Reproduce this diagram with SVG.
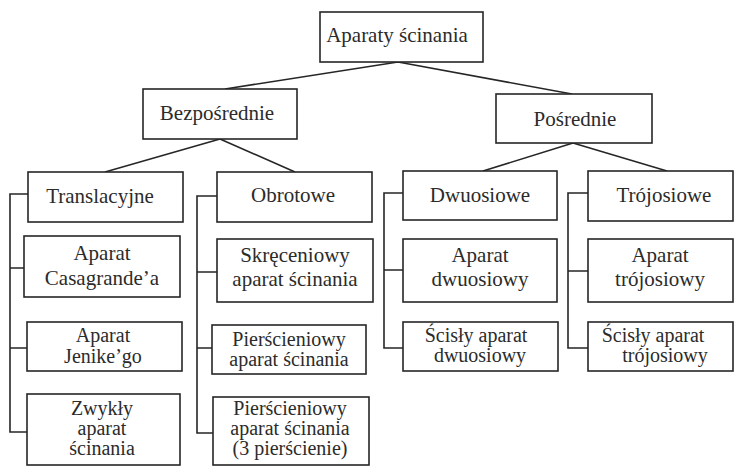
<svg xmlns="http://www.w3.org/2000/svg" width="736" height="466" viewBox="0 0 736 466">
<style>
.box{fill:#fff;stroke:#262626;stroke-width:1.6}
.c{fill:none;stroke:#262626;stroke-width:1.6}
.l{font-size:21px}
.s{font-size:20px}
</style>
<rect width="736" height="466" fill="#fff"/>
<g id="connectors">
<path class="c" d="M398,62 L225,89 M398,62 L572,94"/>
<path class="c" d="M220,139 L105,172 M220,139 L295,172"/>
<path class="c" d="M573,143 L483,171 M573,143 L667,171"/>
<path class="c" d="M28,194 H10 V432 H27 M10,268 H24 M10,348 H27"/>
<path class="c" d="M217,196 H197 V433 H213 M197,272 H217 M197,348 H212"/>
<path class="c" d="M403,193 H384 V348 H403 M384,270 H403"/>
<path class="c" d="M588,193 H568 V348 H588 M568,271 H588"/>
</g>
<g id="nodes" font-family="Liberation Serif, Times New Roman, serif" fill="#2b2b2b" text-anchor="middle">
<g id="n0"><rect class="box" x="320" y="12" width="163" height="50"/><text font-family="Liberation Serif" class="l" x="397" y="42">Aparaty ścinania</text></g>
<g id="n1"><rect class="box" x="143" y="89" width="154" height="50"/><text font-family="Liberation Serif" class="l" x="217" y="120">Bezpośrednie</text></g>
<g id="n2"><rect class="box" x="496" y="94" width="156" height="49"/><text font-family="Liberation Serif" class="l" x="575" y="126">Pośrednie</text></g>
<g id="n3"><rect class="box" x="28" y="172" width="155" height="50"/><text font-family="Liberation Serif" class="l" x="100" y="203">Translacyjne</text></g>
<g id="n4"><rect class="box" x="24" y="236" width="156" height="61"/><text font-family="Liberation Serif" class="l" x="102" y="260">Aparat</text><text font-family="Liberation Serif" class="l" x="102" y="285">Casagrande’a</text></g>
<g id="n5"><rect class="box" x="27" y="322" width="155" height="49"/><text font-family="Liberation Serif" class="s" x="103" y="342">Aparat</text><text font-family="Liberation Serif" class="s" x="103" y="363">Jenike’go</text></g>
<g id="n6"><rect class="box" x="27" y="394" width="153" height="71"/><text font-family="Liberation Serif" class="s" x="102" y="415">Zwykły</text><text font-family="Liberation Serif" class="s" x="102" y="435">aparat</text><text font-family="Liberation Serif" class="s" x="102" y="455">ścinania</text></g>
<g id="n7"><rect class="box" x="217" y="172" width="155" height="50"/><text font-family="Liberation Serif" class="l" x="293" y="202">Obrotowe</text></g>
<g id="n8"><rect class="box" x="217" y="239" width="156" height="63"/><text font-family="Liberation Serif" class="l" x="295" y="262">Skręceniowy</text><text font-family="Liberation Serif" class="l" x="295" y="286">aparat ścinania</text></g>
<g id="n9"><rect class="box" x="212" y="325" width="154" height="49"/><text font-family="Liberation Serif" class="s" x="289" y="346">Pierścieniowy</text><text font-family="Liberation Serif" class="s" x="289" y="366">aparat ścinania</text></g>
<g id="n10"><rect class="box" x="213" y="397" width="156" height="68"/><text font-family="Liberation Serif" class="s" x="290" y="415">Pierścieniowy</text><text font-family="Liberation Serif" class="s" x="290" y="435">aparat ścinania</text><text font-family="Liberation Serif" class="s" x="290" y="455">(3 pierścienie)</text></g>
<g id="n11"><rect class="box" x="403" y="171" width="154" height="49"/><text font-family="Liberation Serif" class="l" x="480" y="202">Dwuosiowe</text></g>
<g id="n12"><rect class="box" x="403" y="239" width="154" height="63"/><text font-family="Liberation Serif" class="l" x="480" y="262">Aparat</text><text font-family="Liberation Serif" class="l" x="480" y="286">dwuosiowy</text></g>
<g id="n13"><rect class="box" x="403" y="322" width="155" height="49"/><text font-family="Liberation Serif" class="s" x="476" y="342">Ścisły aparat</text><text font-family="Liberation Serif" class="s" x="480" y="362">dwuosiowy</text></g>
<g id="n14"><rect class="box" x="588" y="171" width="145" height="50"/><text font-family="Liberation Serif" class="l" x="664" y="202">Trójosiowe</text></g>
<g id="n15"><rect class="box" x="588" y="239" width="145" height="63"/><text font-family="Liberation Serif" class="l" x="660" y="262">Aparat</text><text font-family="Liberation Serif" class="l" x="660" y="286">trójosiowy</text></g>
<g id="n16"><rect class="box" x="588" y="322" width="145" height="49"/><text font-family="Liberation Serif" class="s" x="653" y="342">Ścisły aparat</text><text font-family="Liberation Serif" class="s" x="665" y="362">trójosiowy</text></g>
</g>
</svg>
